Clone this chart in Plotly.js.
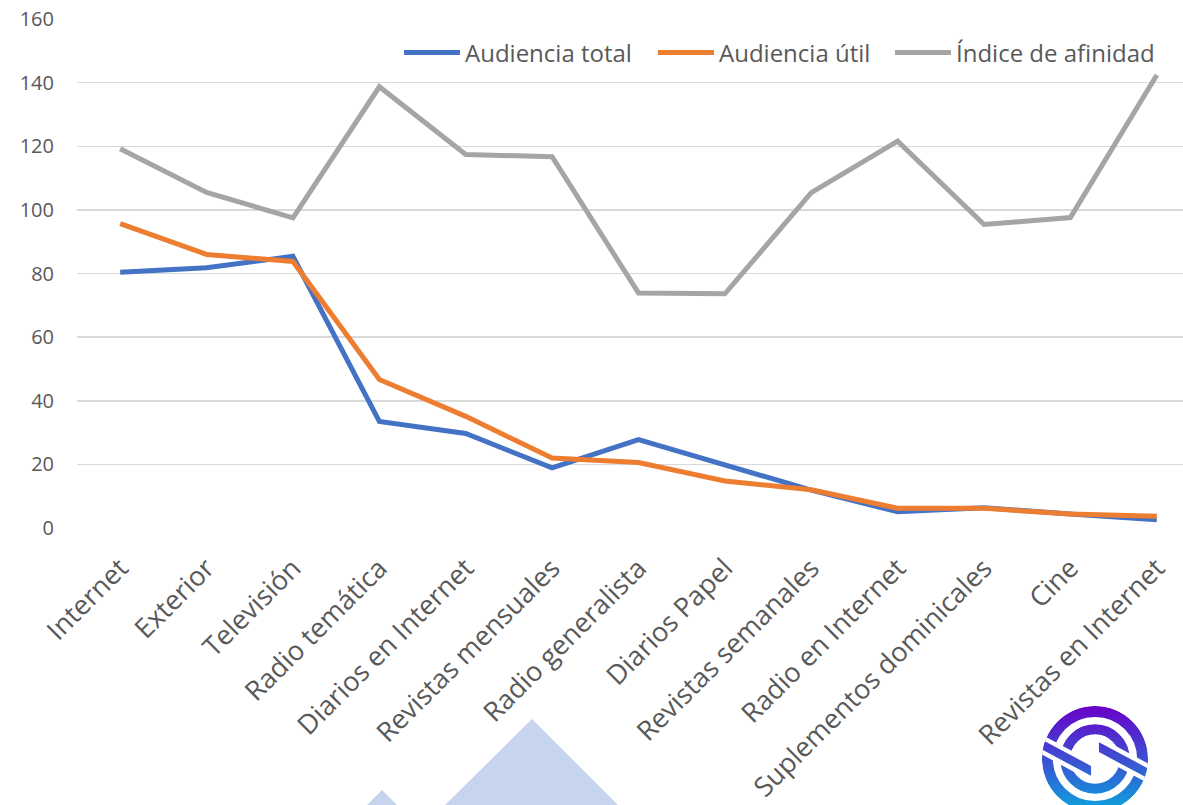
<!DOCTYPE html>
<html>
<head>
<meta charset="utf-8">
<script src="https://cdn.plot.ly/plotly-3.0.1.min.js"></script>
<style>html,body{margin:0;padding:0;background:#fff;}#chart{width:1183px;height:805px;}</style>
</head>
<body>
<div id="chart"></div>
<script>
const categories = ["Internet","Exterior","Televisión","Radio temática","Diarios en Internet","Revistas mensuales","Radio generalista","Diarios Papel","Revistas semanales","Radio en Internet","Suplementos dominicales","Cine","Revistas en Internet"];
const audienciaTotal = [80.4, 81.8, 85.4, 33.5, 29.7, 18.9, 27.8, 19.7, 11.9, 5.1, 6.4, 4.4, 2.6];
const audienciaUtil = [95.7, 86.0, 83.8, 46.7, 35.1, 22.0, 20.6, 14.8, 12.0, 6.2, 6.2, 4.4, 3.7];
const indiceAfinidad = [119.2, 105.5, 97.5, 138.7, 117.4, 116.7, 73.9, 73.6, 105.4, 121.6, 95.4, 97.6, 142.4];
const seriesNames = ["Audiencia total", "Audiencia útil", "Índice de afinidad"];
const seriesColors = ["#4472C4", "#ED7D31", "#A5A5A5"];

const W = 1183, H = 805, ML = 77, MT = 19, MB = 277, MR = 0;
const PW = W - ML - MR, PH = H - MT - MB;
const px2x = p => (p - ML) / PW;
const px2y = p => (H - MB - p) / PH;

const legendIds = ["legend", "legend2", "legend3"];
const legendLeft = [399, 653, 890];

const traces = [audienciaTotal, audienciaUtil, indiceAfinidad].map((vals, i) => ({
  x: categories, y: vals, name: seriesNames[i], type: "scatter", mode: "lines",
  line: {color: seriesColors[i], width: 5}, hoverinfo: "skip", legend: legendIds[i]
}));

function tri(ax, ay, bl, br, by) {
  return "M " + px2x(ax) + " " + px2y(ay) + " L " + px2x(br) + " " + px2y(by) + " L " + px2x(bl) + " " + px2y(by) + " Z";
}

const logoSvg = "<svg xmlns='http://www.w3.org/2000/svg' viewBox='-54 -54 108 108' width='216' height='216'>" +
  "<defs><linearGradient id='g' gradientUnits='userSpaceOnUse' x1='0' y1='-54' x2='0' y2='54'>" +
  "<stop offset='0' stop-color='#6a00c8'/><stop offset='0.5' stop-color='#3d4ed2'/><stop offset='1' stop-color='#08a8dd'/></linearGradient>" +
  "<clipPath id='c'><circle r='53.5'/></clipPath></defs>" +
  "<g clip-path='url(#c)'>" +
  "<circle r='48' fill='none' stroke='url(#g)' stroke-width='11'/>" +
  "<circle r='30' fill='none' stroke='url(#g)' stroke-width='10'/>" +
  "<polygon points='-60,-28 -1,4 -1,24 -60,-8' fill='white'/>" +
  "<polygon points='1,-24 60,8 60,28 1,-4' fill='white'/>" +
  "<polygon points='-60,-23 -4,7 -4,17 -60,-13' fill='url(#g)'/>" +
  "<polygon points='4,-17 60,13 60,23 4,-7' fill='url(#g)'/>" +
  "</g></svg>";

function legendAt(px) {
  return {
    orientation: "h", x: px2x(px), xanchor: "left", y: px2y(53), yanchor: "middle",
    font: {size: 24, color: "#595959", family: "Open Sans, sans-serif"},
    bgcolor: "rgba(255,255,255,0)", itemwidth: 56
  };
}

const layout = {
  width: W, height: H,
  margin: {l: ML, r: MR, t: MT, b: MB},
  paper_bgcolor: "#ffffff", plot_bgcolor: "#ffffff",
  font: {family: "Open Sans, sans-serif", color: "#595959"},
  showlegend: true,
  legend: legendAt(legendLeft[0]),
  legend2: legendAt(legendLeft[1]),
  legend3: legendAt(legendLeft[2]),
  xaxis: {
    type: "category", range: [-0.5, (W - 120) / 86.4], tickangle: -45,
    showgrid: false, zeroline: false, showline: false, ticks: "",
    tickfont: {size: 27, color: "#595959"}, ticklabelstandoff: 18, fixedrange: true
  },
  yaxis: {
    range: [0, 160], dtick: 20, tick0: 0, showgrid: true, gridcolor: "#d9d9d9", gridwidth: 1.5,
    zeroline: false, showline: false, ticks: "",
    tickfont: {size: 20, color: "#595959"}, ticklabelstandoff: 22, fixedrange: true
  },
  shapes: [
    {type: "path", xref: "paper", yref: "paper", layer: "below", line: {width: 0}, fillcolor: "#C6D4ED",
     path: tri(532, 719, 445, 618, 805)},
    {type: "path", xref: "paper", yref: "paper", layer: "below", line: {width: 0}, fillcolor: "#C6D4ED",
     path: tri(382, 790, 367, 397, 805)}
  ],
  images: [{
    source: "data:image/svg+xml;charset=utf-8," + encodeURIComponent(logoSvg),
    xref: "paper", yref: "paper", x: px2x(1041.5), y: px2y(705.5),
    sizex: 107 / PW, sizey: 107 / PH, xanchor: "left", yanchor: "top",
    sizing: "stretch", layer: "above"
  }]
};

Plotly.newPlot("chart", traces, layout, {displayModeBar: false, staticPlot: true});
</script>
</body>
</html>
